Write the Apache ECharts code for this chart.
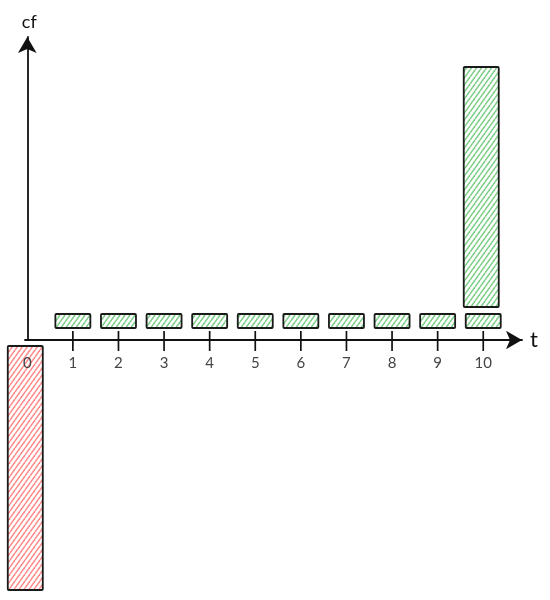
<!DOCTYPE html>
<html>
<head>
<meta charset="utf-8">
<script src="https://cdn.jsdelivr.net/npm/echarts@6/dist/echarts.min.js"></script>
<style>html,body{margin:0;padding:0;background:#fff}#c{width:550px;height:600px}</style>
</head>
<body>
<div id="c"></div>
<script>
// Cash-flow diagram data (arbitrary units)
var periods = [0, 1, 2, 3, 4, 5, 6, 7, 8, 9, 10];
var tickLabels = ['0', '1', '2', '3', '4', '5', '6', '7', '8', '9', '10'];
var initialOutlay = -244;                 // at t = 0
var paymentPeriods = [1, 2, 3, 4, 5, 6, 7, 8, 9, 10];
var payments = [14, 14, 14, 14, 14, 14, 14, 14, 14, 14];
var finalPeriod = 10;
var finalValue = 240;                     // stacked on top of last payment

function hatch(color) {
  var w = 5, h = 7;
  var c = document.createElement('canvas');
  c.width = w; c.height = h;
  var g = c.getContext('2d');
  g.strokeStyle = color; g.lineWidth = 1.5;
  for (var k = 0; k <= 2; k++) {
    g.beginPath();
    g.moveTo((k - 1) * w, h);
    g.lineTo(k * w, 0);
    g.stroke();
  }
  return { image: c, repeat: 'repeat' };
}
var greenFill = hatch('rgba(110,200,120,0.9)');
var redFill = hatch('rgba(255,130,130,0.95)');

// bar items: [t, from, to, kind]
var items = [];
items.push({ value: [periods[0], 0, initialOutlay, 0] });
for (var i = 0; i < paymentPeriods.length; i++) {
  items.push({ value: [paymentPeriods[i], 0, payments[i], 1] });
}
var lastPay = payments[paymentPeriods.indexOf(finalPeriod)];
items.push({ value: [finalPeriod, lastPay, lastPay + finalValue, 2] });

var chart = echarts.init(document.getElementById('c'), null, { renderer: 'canvas' });
chart.setOption({
  animation: false,
  grid: { left: 25, right: 28, top: 37, bottom: 260, containLabel: false },
  xAxis: {
    type: 'value', min: -0.05, max: 10.85, z: 10,
    splitLine: { show: false },
    axisLine: { lineStyle: { color: '#111', width: 1.8 }, symbol: ['none', 'arrow'], symbolSize: [14, 16] },
    axisTick: { show: false },
    axisLabel: {
      customValues: periods,
      formatter: function (v) { return tickLabels[periods.indexOf(v)]; },
      color: '#444', fontSize: 15, margin: 16, fontFamily: 'Lato'
    },
    name: 't', nameLocation: 'end', nameGap: 8,
    nameTextStyle: { fontSize: 22, color: '#111', fontFamily: 'Lato', verticalAlign: 'middle' }
  },
  yAxis: {
    type: 'value', min: 0, max: 303, z: 10,
    splitLine: { show: false },
    axisLabel: { show: false }, axisTick: { show: false },
    axisLine: { show: true, lineStyle: { color: '#111', width: 1.8 }, symbol: ['none', 'arrow'], symbolSize: [14, 16] },
    name: 'cf', nameLocation: 'end', nameGap: 6,
    nameTextStyle: { fontSize: 18, color: '#111', fontFamily: 'Lato', align: 'center', padding: [0, 0, 0, 4] }
  },
  series: [{
    type: 'custom',
    clip: false,
    z: 1,
    data: items,
    encode: { x: 0, y: [1, 2] },
    renderItem: function (params, api) {
      var t = api.value(0), from = api.value(1), to = api.value(2), kind = api.value(3);
      var half = 17.5;
      var x = api.coord([t, 0])[0];
      var y0 = api.coord([t, 0])[1];
      var children = [];
      var yFrom, yTo;
      if (kind === 0) {
        x -= 2;
        yFrom = y0 + 6; yTo = api.coord([t, to])[1] + 6;
      } else if (kind === 1) {
        yFrom = y0 - 12; yTo = api.coord([t, to])[1] - 12;
        children.push({ type: 'line', shape: { x1: x, y1: y0 - 9, x2: x, y2: y0 + 11 },
          style: { stroke: '#111', lineWidth: 1.7 } });
      } else {
        x -= 2;
        yFrom = api.coord([t, from])[1] - 19; yTo = api.coord([t, to])[1] - 19;
      }
      var top = Math.min(yFrom, yTo), hgt = Math.abs(yTo - yFrom);
      children.unshift({
        type: 'rect',
        shape: { x: x - half, y: top, width: half * 2, height: hgt, r: 1 },
        style: { fill: kind === 0 ? redFill : greenFill, stroke: '#1a1a1a', lineWidth: 1.8 }
      });
      return { type: 'group', children: children };
    }
  }]
});
</script>
</body>
</html>
